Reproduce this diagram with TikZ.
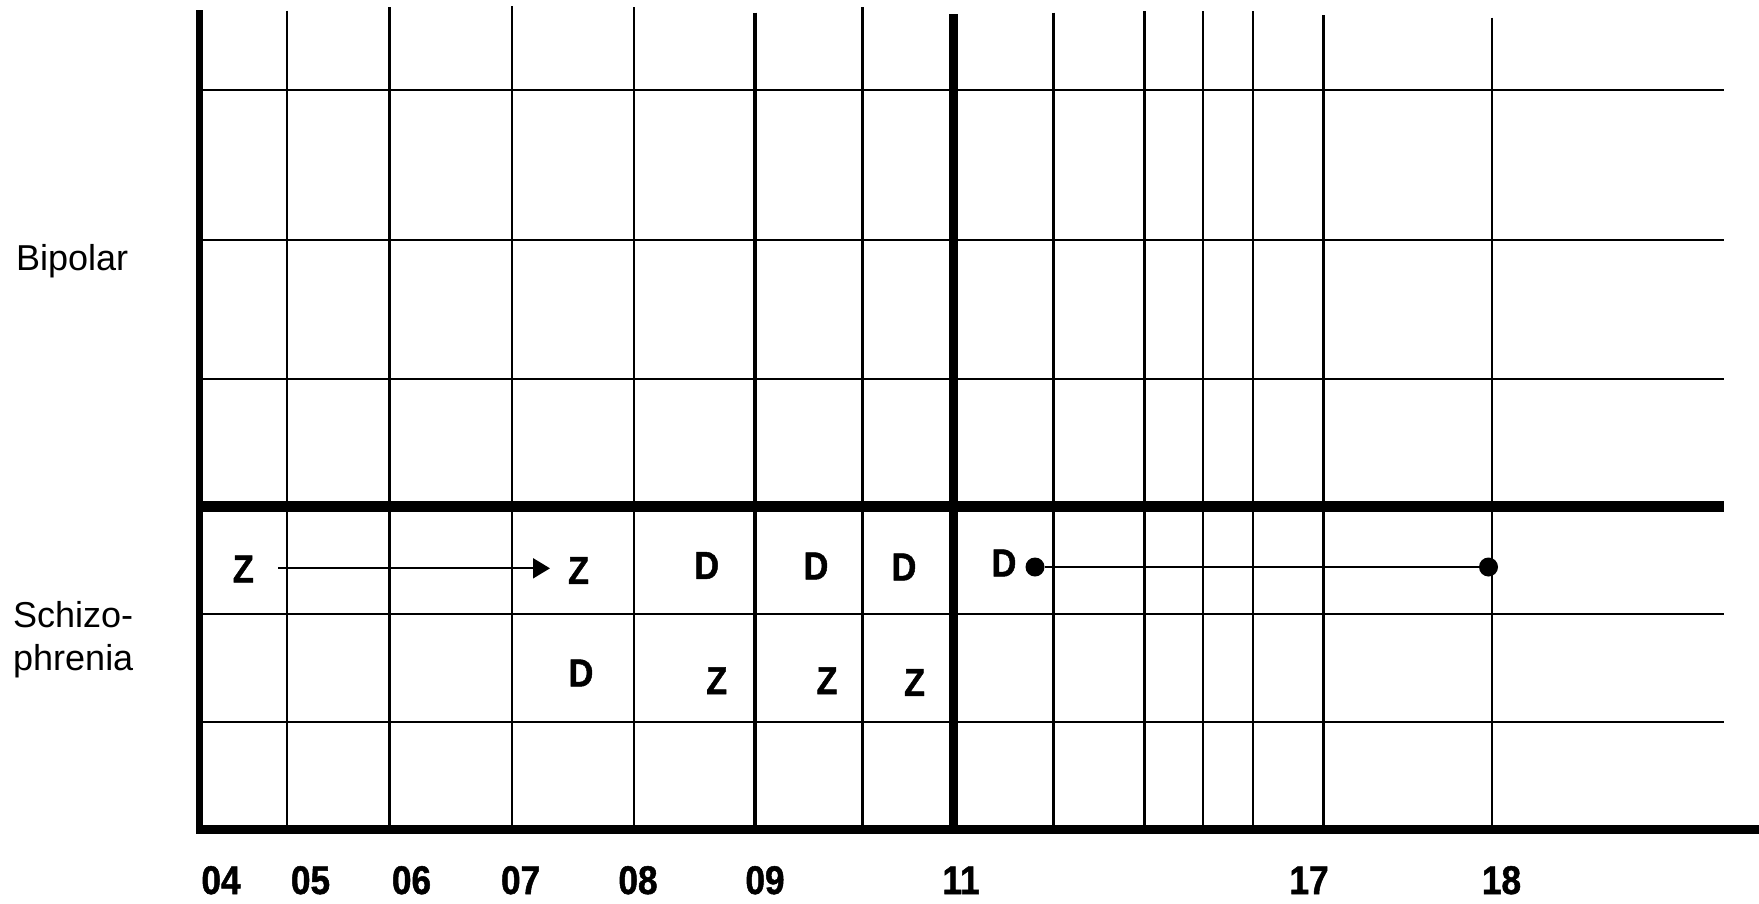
\documentclass[tikz,border=0pt]{standalone}
\usepackage{fontspec}
\setmainfont{Liberation Sans}
\newfontfamily\condbold[FakeStretch=0.88,FakeBold=1.2]{Liberation Sans Bold}
\usetikzlibrary{arrows.meta}
\begin{document}
\begin{tikzpicture}[x=1pt,y=-1pt,
  gridline/.style={line width=2.2pt},
  midline/.style={line width=3.2pt},
  heavyline/.style={line width=9pt},
  rowlabel/.style={anchor=base west,inner sep=0pt,font=\fontsize{36}{40}\selectfont},
  yearlabel/.style={anchor=base,inner sep=0pt,font=\fontsize{40}{44}\condbold},
  cellmark/.style={anchor=center,inner sep=0pt,font=\fontsize{39}{44}\condbold},
  dotnode/.style={circle,fill=black,inner sep=0pt,minimum size=19pt},
  link/.style={line width=2pt}]
\useasboundingbox (0,0) rectangle (1759,903);
% thin vertical lines
\foreach \x/\t in {287/10.5,389.5/7,512/6,634/7,862.5/7,1053.5/12.5,1144.5/11,1203/11,1253/11,1323.5/15,1492/17.5}
  \draw[gridline] (\x,\t) -- (\x,829);
\draw[midline] (755,12.5) -- (755,829);
% thin horizontal lines
\foreach \y in {90,240,379,614,722}
  \draw[gridline] (199.5,\y) -- (1724,\y);
% heavy lines
\draw[line width=11pt] (196,506) -- (1724,506);
\draw[line width=7.5pt] (199.5,10) -- (199.5,833);
\draw[heavyline] (953,14) -- (953,829);
\draw[line width=9pt] (196,829) -- (1759,829);
% row labels
\node[rowlabel] (bip) at (16,270) {Bipolar};
\node[rowlabel] (sch1) at (13,627) {Schizo-};
\node[rowlabel] (sch2) at (13,670) {phrenia};
% year labels
\foreach \x/\l in {221/04,310.5/05,411.5/06,520.6/07,638/08,765/09,961/11,1309/17,1501.5/18}
  \node[yearlabel] (y\l) at (\x,894) {\l};
% marks
\node[cellmark] (z1) at (243.3,569) {Z};
\node[cellmark] (z2) at (578.5,570.5) {Z};
\node[cellmark] (d1) at (706.7,565.5) {D};
\node[cellmark] (d2) at (816,566) {D};
\node[cellmark] (d3) at (904,567) {D};
\node[cellmark] (d4) at (1004,563) {D};
\node[cellmark] (d5) at (581,673) {D};
\node[cellmark] (z3) at (716.7,680.7) {Z};
\node[cellmark] (z4) at (827,680.7) {Z};
\node[cellmark] (z5) at (914.5,682.5) {Z};
% arrow
\coordinate (a1) at (278.3,568.3);
\coordinate (a2) at (550,568.3);
\draw[link,-{Triangle[length=17pt,width=20pt]}] (a1) -- (a2);
% dotted interval
\node[dotnode] (p1) at (1035,567) {};
\node[dotnode] (p2) at (1488.5,567) {};
\draw[link] (p1) -- (p2);
\end{tikzpicture}
\end{document}
